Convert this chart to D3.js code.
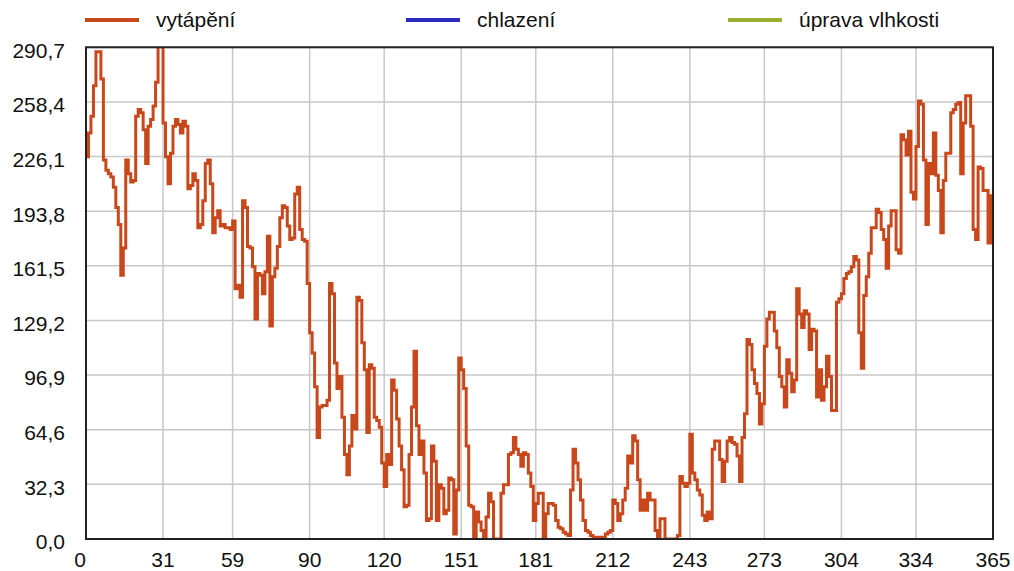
<!DOCTYPE html>
<html>
<head>
<meta charset="utf-8">
<script src="https://cdn.jsdelivr.net/npm/d3@7"></script>
<style>
  html, body { margin: 0; padding: 0; background: #fff; }
  svg { display: block; font-family: "Liberation Sans", Arial, sans-serif; }
</style>
</head>
<body>
<div id="chart"></div>
<script>
// daily values, day 0..365
var heating = [
  226, 240, 250, 268, 288, 288, 272, 224, 218, 216, 214, 208, 196, 186, 156, 172, 224, 216, 211, 212,
  250, 254, 252, 242, 222, 244, 248, 256, 270, 291, 291, 246, 226, 210, 228, 244, 248, 245, 240, 247,
  244, 207, 209, 216, 212, 184, 186, 200, 222, 224, 210, 181, 190, 194, 185, 186, 184, 184, 183, 188,
  148, 150, 143, 200, 196, 173, 172, 161, 130, 157, 156, 145, 158, 179, 126, 155, 160, 173, 190, 197,
  196, 185, 177, 178, 204, 208, 183, 177, 176, 151, 122, 110, 90, 60, 78, 79, 79, 82, 151, 145,
  104, 89, 96, 72, 50, 38, 55, 73, 65, 143, 141, 116, 100, 63, 103, 101, 72, 70, 66, 45,
  31, 50, 44, 94, 88, 71, 55, 41, 19, 20, 50, 78, 111, 67, 50, 58, 39, 11, 12, 55,
  46, 11, 32, 30, 15, 17, 36, 35, 3, 29, 107, 100, 89, 55, 20, 19, 0, 16, 10, 5,
  0, 13, 27, 22, 0, 0, 0, 27, 32, 32, 50, 51, 60, 53, 50, 43, 51, 50, 39, 31,
  11, 21, 27, 27, 0, 15, 21, 21, 20, 11, 7, 6, 4, 3, 2, 29, 53, 45, 35, 23,
  11, 5, 4, 2, 1, 1, 1, 1, 1, 3, 4, 5, 23, 21, 11, 15, 23, 30, 49, 45,
  61, 58, 35, 17, 23, 17, 27, 23, 23, 5, 1, 12, 12, 0, 0, 0, 0, 0, 2, 37,
  33, 31, 33, 62, 39, 35, 29, 26, 14, 11, 16, 12, 53, 58, 58, 47, 34, 46, 58, 60,
  57, 56, 49, 34, 60, 74, 118, 115, 100, 92, 86, 68, 80, 114, 130, 134, 134, 123, 113, 96,
  90, 78, 106, 98, 87, 94, 148, 133, 125, 135, 133, 112, 124, 123, 84, 100, 82, 90, 108, 96,
  76, 76, 140, 142, 145, 154, 157, 158, 161, 167, 165, 122, 101, 144, 155, 169, 184, 184, 195, 193,
  183, 177, 160, 185, 194, 194, 171, 169, 239, 236, 227, 241, 205, 201, 232, 259, 257, 224, 186, 222,
  216, 240, 215, 206, 181, 212, 228, 228, 252, 254, 257, 258, 216, 246, 262, 262, 244, 183, 177, 220,
  219, 206, 206, 175, 203, 203
];
var xTicks = [0, 31, 59, 90, 120, 151, 181, 212, 243, 273, 304, 334, 365];
var yTicks = [0, 32.3, 64.6, 96.9, 129.2, 161.5, 193.8, 226.1, 258.4, 290.7];
var seriesNames = ['vytápění', 'chlazení', 'úprava vlhkosti'];
var seriesColors = ['#c8481c', '#2b2bc0', '#98b030'];

var width = 1014, height = 571;
var margin = { left: 86, right: 21, top: 47.3, bottom: 32 };

var svg = d3.select('#chart').append('svg').attr('width', width).attr('height', height);

var x = d3.scaleLinear().domain([0, 365]).range([margin.left, width - margin.right]);
var y = d3.scaleLinear().domain([0, 290.7]).range([height - margin.bottom, margin.top]);

// grid
svg.append('g').selectAll('line.h').data(yTicks).enter().append('line')
  .attr('x1', x(0)).attr('x2', x(365))
  .attr('y1', function(d) { return y(d); }).attr('y2', function(d) { return y(d); })
  .attr('stroke', '#c8c8c8').attr('stroke-width', 1.5);
svg.append('g').selectAll('line.v').data(xTicks).enter().append('line')
  .attr('y1', y(0)).attr('y2', y(290.7))
  .attr('x1', function(d) { return x(d); }).attr('x2', function(d) { return x(d); })
  .attr('stroke', '#c8c8c8').attr('stroke-width', 1.5);

// axis labels
var fmt = function(d) { return d.toFixed(1).replace('.', ','); };
svg.append('g').selectAll('text').data(yTicks).enter().append('text')
  .attr('x', 65).attr('y', function(d) { return y(d) + 3; })
  .attr('dy', '0.35em').attr('text-anchor', 'end')
  .attr('font-size', '21px').attr('fill', '#111')
  .text(fmt);
svg.append('g').selectAll('text').data(xTicks).enter().append('text')
  .attr('x', function(d) { return d === 0 ? x(d) - 6 : x(d); }).attr('y', 567)
  .attr('text-anchor', 'middle')
  .attr('font-size', '21px').attr('fill', '#111')
  .text(function(d) { return d; });

// line
svg.append('clipPath').attr('id', 'clip').append('rect')
  .attr('x', x(0)).attr('y', y(290.7)).attr('width', x(365) - x(0)).attr('height', y(0) - y(290.7));

var line = d3.line()
  .x(function(d, i) { return x(i); })
  .y(function(d) { return y(d); })
  .curve(d3.curveStepAfter);

svg.append('path').datum(heating)
  .attr('clip-path', 'url(#clip)')
  .attr('fill', 'none').attr('stroke', seriesColors[0]).attr('stroke-width', 3)
  .attr('stroke-linejoin', 'miter')
  .attr('d', line);

// plot frame
svg.append('rect')
  .attr('x', x(0)).attr('y', y(290.7)).attr('width', x(365) - x(0)).attr('height', y(0) - y(290.7))
  .attr('fill', 'none').attr('stroke', '#222').attr('stroke-width', 2);

// legend
var legendX = [85, 406, 728];
var lg = svg.append('g').selectAll('g').data(seriesNames).enter().append('g')
  .attr('transform', function(d, i) { return 'translate(' + legendX[i] + ',20)'; });
lg.append('line').attr('x1', 0).attr('x2', 54).attr('y1', 0).attr('y2', 0)
  .attr('stroke', function(d, i) { return seriesColors[i]; }).attr('stroke-width', 4);
lg.append('text').attr('x', 71).attr('y', 0).attr('dy', '0.32em')
  .attr('font-size', '21px').attr('fill', '#111')
  .text(function(d) { return d; });
</script>
</body>
</html>
